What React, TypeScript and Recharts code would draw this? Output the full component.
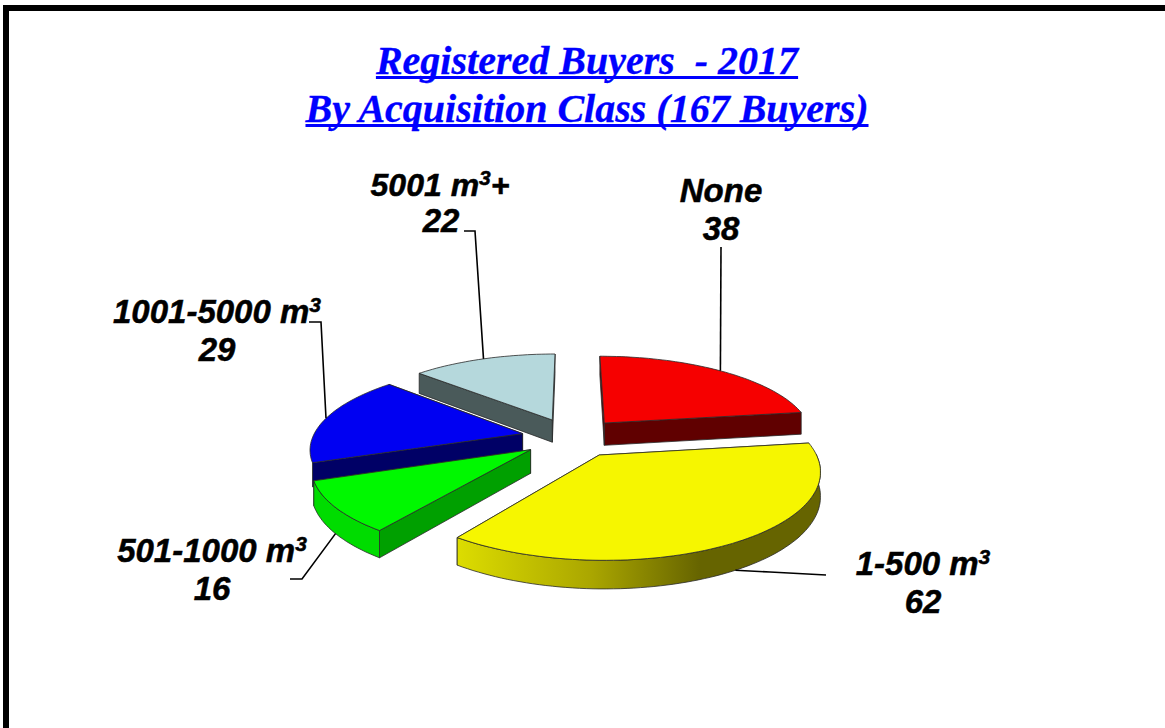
/**
 * Exploded 3D style pie: registered buyers by acquisition class.
 * Recharts has no 3D pie, so the sectors are drawn by a custom shape that projects
 * the angles computed by <Pie> onto a tilted plane.
 */
import { PieChart, Pie } from 'recharts';

const categories = ['None', '1-500', '501-1000', '1001-5000', '5001'];
const buyers = [38, 62, 16, 29, 22];
const topColors = ['#f60000', '#f6f600', '#00f800', '#0000f2', '#b5d8dc'];
// blue's rim wall is hidden behind green in the original, so it gets none
const arcWallColors = ['#600000', 'url(#yellowWall)', '#00dc00', 'none', '#4a5a5a'];
const cutWallColors = ['#600000', '#8a8600', '#00a000', '#000066', '#4a5a5a'];

// Drawn back to front: running counter-clockwise from 12 o'clock paints blue before green
const rows = categories
  .map((name, i) => ({
    name,
    value: buyers[i],
    top: topColors[i],
    arcWall: arcWallColors[i],
    cutWall: cutWallColors[i],
  }))
  .reverse();

// tilt of the pie plane
const SQUASH = 0.39;
const PERSPECTIVE = 0.162;
const EXPLODE = 0.2416;
const DEPTH = 23;

const rad = (deg: number) => (deg * Math.PI) / 180;

function project(cx: number, cy: number, r: number, mid: number, angle: number, k: number, drop: number) {
  const u = EXPLODE * Math.cos(rad(mid)) + k * Math.cos(rad(angle));
  const v = EXPLODE * Math.sin(rad(mid)) + k * Math.sin(rad(angle));
  const w = 1 + PERSPECTIVE * v;
  return [cx + (r * u) / w, cy - (r * SQUASH * v) / w + (DEPTH * drop) / w];
}

const toPoints = (pts: number[][]) => pts.map((p) => `${p[0].toFixed(1)},${p[1].toFixed(1)}`).join(' ');

function Slice3D(props: any) {
  const { cx, cy, outerRadius: r, startAngle, endAngle, payload } = props;
  const mid = (startAngle + endAngle) / 2;
  const row = payload?.payload ?? payload ?? props;

  const arc: number[] = [];
  for (let a = startAngle; a < endAngle; a += 1.5) arc.push(a);
  arc.push(endAngle);

  const rim = (drop: number) => arc.map((a) => project(cx, cy, r, mid, a, 1, drop));
  const tip = (drop: number) => project(cx, cy, r, mid, 0, 0, drop);
  const stroke = { stroke: '#2a2a2a', strokeWidth: 0.8, strokeLinejoin: 'round' as const };

  const first = rim(0)[0];
  const last = rim(0)[arc.length - 1];
  const firstLow = rim(1)[0];
  const lastLow = rim(1)[arc.length - 1];

  // only the part of the rim facing the viewer gets a wall
  const front = arc.filter((a) => Math.sin(rad(a)) < 0.02);
  const frontRim = (drop: number) => front.map((a) => project(cx, cy, r, mid, a, 1, drop));

  return (
    <g>
      <defs>
        <linearGradient id="yellowWall" gradientUnits="userSpaceOnUse" x1="459" y1="0" x2="700" y2="0">
          <stop offset="0" stopColor="#dcdc00" />
          <stop offset="0.55" stopColor="#aaa600" />
          <stop offset="1" stopColor="#666400" />
        </linearGradient>
      </defs>
      <polygon points={toPoints([tip(0), first, firstLow, tip(1)])} fill={row.cutWall} {...stroke} />
      <polygon points={toPoints([tip(0), last, lastLow, tip(1)])} fill={row.cutWall} {...stroke} />
      {front.length > 1 && row.arcWall !== 'none' && (
        <polygon points={toPoints([...frontRim(0), ...frontRim(1).reverse()])} fill={row.arcWall} {...stroke} />
      )}
      <polygon points={toPoints([tip(0), ...rim(0)])} fill={row.top} {...stroke} />
    </g>
  );
}

// where each label sits and how its leader line runs from the slice to the label
const labelSpots: Record<string, any> = {
  None: { x: 721, y: 202, x2: 721, y2: 240, unit: '', leader: [[721, 247]], drop: 0, size: 33 },
  '1-500': { x: 923, y: 575, x2: 923, y2: 613, unit: ' m', leader: [[826, 575], [770, 572]], drop: 1, size: 33 },
  '501-1000': { x: 212, y: 562, x2: 212, y2: 600, unit: ' m', leader: [[290, 579], [302, 579]], drop: 1, size: 33 },
  '1001-5000': { x: 217, y: 323, x2: 217, y2: 361, unit: ' m', leader: [[309, 322], [321, 322]], drop: 0, size: 33 },
  '5001': { x: 440, y: 196, x2: 441, y2: 232, unit: ' m', after: '+', leader: [[464, 231], [475, 231]], drop: 0, size: 32 },
};

function SliceLabel(props: any) {
  const { cx, cy, outerRadius: r, midAngle, name, value } = props;
  const spot = labelSpots[name];
  if (!spot) return null;
  const from = project(cx, cy, r, midAngle, midAngle, 1, spot.drop);
  const line = [...spot.leader, from];
  const font = {
    fontFamily: '"Liberation Sans", Arial, sans-serif',
    fontWeight: 700,
    fontStyle: 'italic',
    fill: '#000',
    stroke: '#000',
    strokeWidth: 0.5,
    textAnchor: 'middle' as const,
  };
  return (
    <g>
      <polyline points={toPoints(line)} fill="none" stroke="#000" strokeWidth={1.6} />
      <text x={spot.x} y={spot.y} fontSize={spot.size} {...font}>
        {name}
        {spot.unit}
        {spot.unit && (
          <tspan fontSize={21} dy={-11}>
            3
          </tspan>
        )}
        {spot.after && <tspan dy={11}>{spot.after}</tspan>}
      </text>
      <text x={spot.x2} y={spot.y2} fontSize={33} {...font}>
        {value}
      </text>
    </g>
  );
}

const titleLine = {
  display: 'block',
  textAlign: 'center' as const,
  whiteSpace: 'pre' as const,
};

export default function App() {
  return (
    <div style={{ position: 'fixed', left: 0, top: 0, width: 1165, height: 728, overflow: 'hidden', background: '#fff' }}>
      {/* frame runs off the right and bottom of the picture */}
      <div
        style={{
          position: 'absolute',
          left: 3,
          top: 5,
          width: 1400,
          height: 900,
          border: '6px solid #000',
          boxSizing: 'border-box',
        }}
      />
      <div
        style={{
          position: 'absolute',
          left: 0,
          top: 37,
          width: 1174,
          fontFamily: '"Liberation Serif", "Times New Roman", serif',
          fontWeight: 700,
          fontStyle: 'italic',
          fontSize: 40,
          lineHeight: '48px',
          color: '#0000ff',
          textDecoration: 'underline',
          textDecorationThickness: 3,
          textDecorationSkipInk: 'none',
          WebkitTextStroke: '0.3px #0000ff',
        }}
      >
        <span style={titleLine}>Registered Buyers  - 2017</span>
        <span style={titleLine}>By Acquisition Class (167 Buyers)</span>
      </div>
      <div style={{ position: 'absolute', left: 0, top: 0 }}>
        <PieChart width={1165} height={728} margin={{ top: 0, right: 0, bottom: 0, left: 0 }}>
          <Pie
            data={rows}
            dataKey="value"
            nameKey="name"
            cx={572}
            cy={437.5}
            innerRadius={0}
            outerRadius={210}
            startAngle={90}
            endAngle={450}
            isAnimationActive={false}
            shape={Slice3D}
            label={SliceLabel}
            labelLine={false}
            stroke="none"
          />
        </PieChart>
      </div>
    </div>
  );
}
